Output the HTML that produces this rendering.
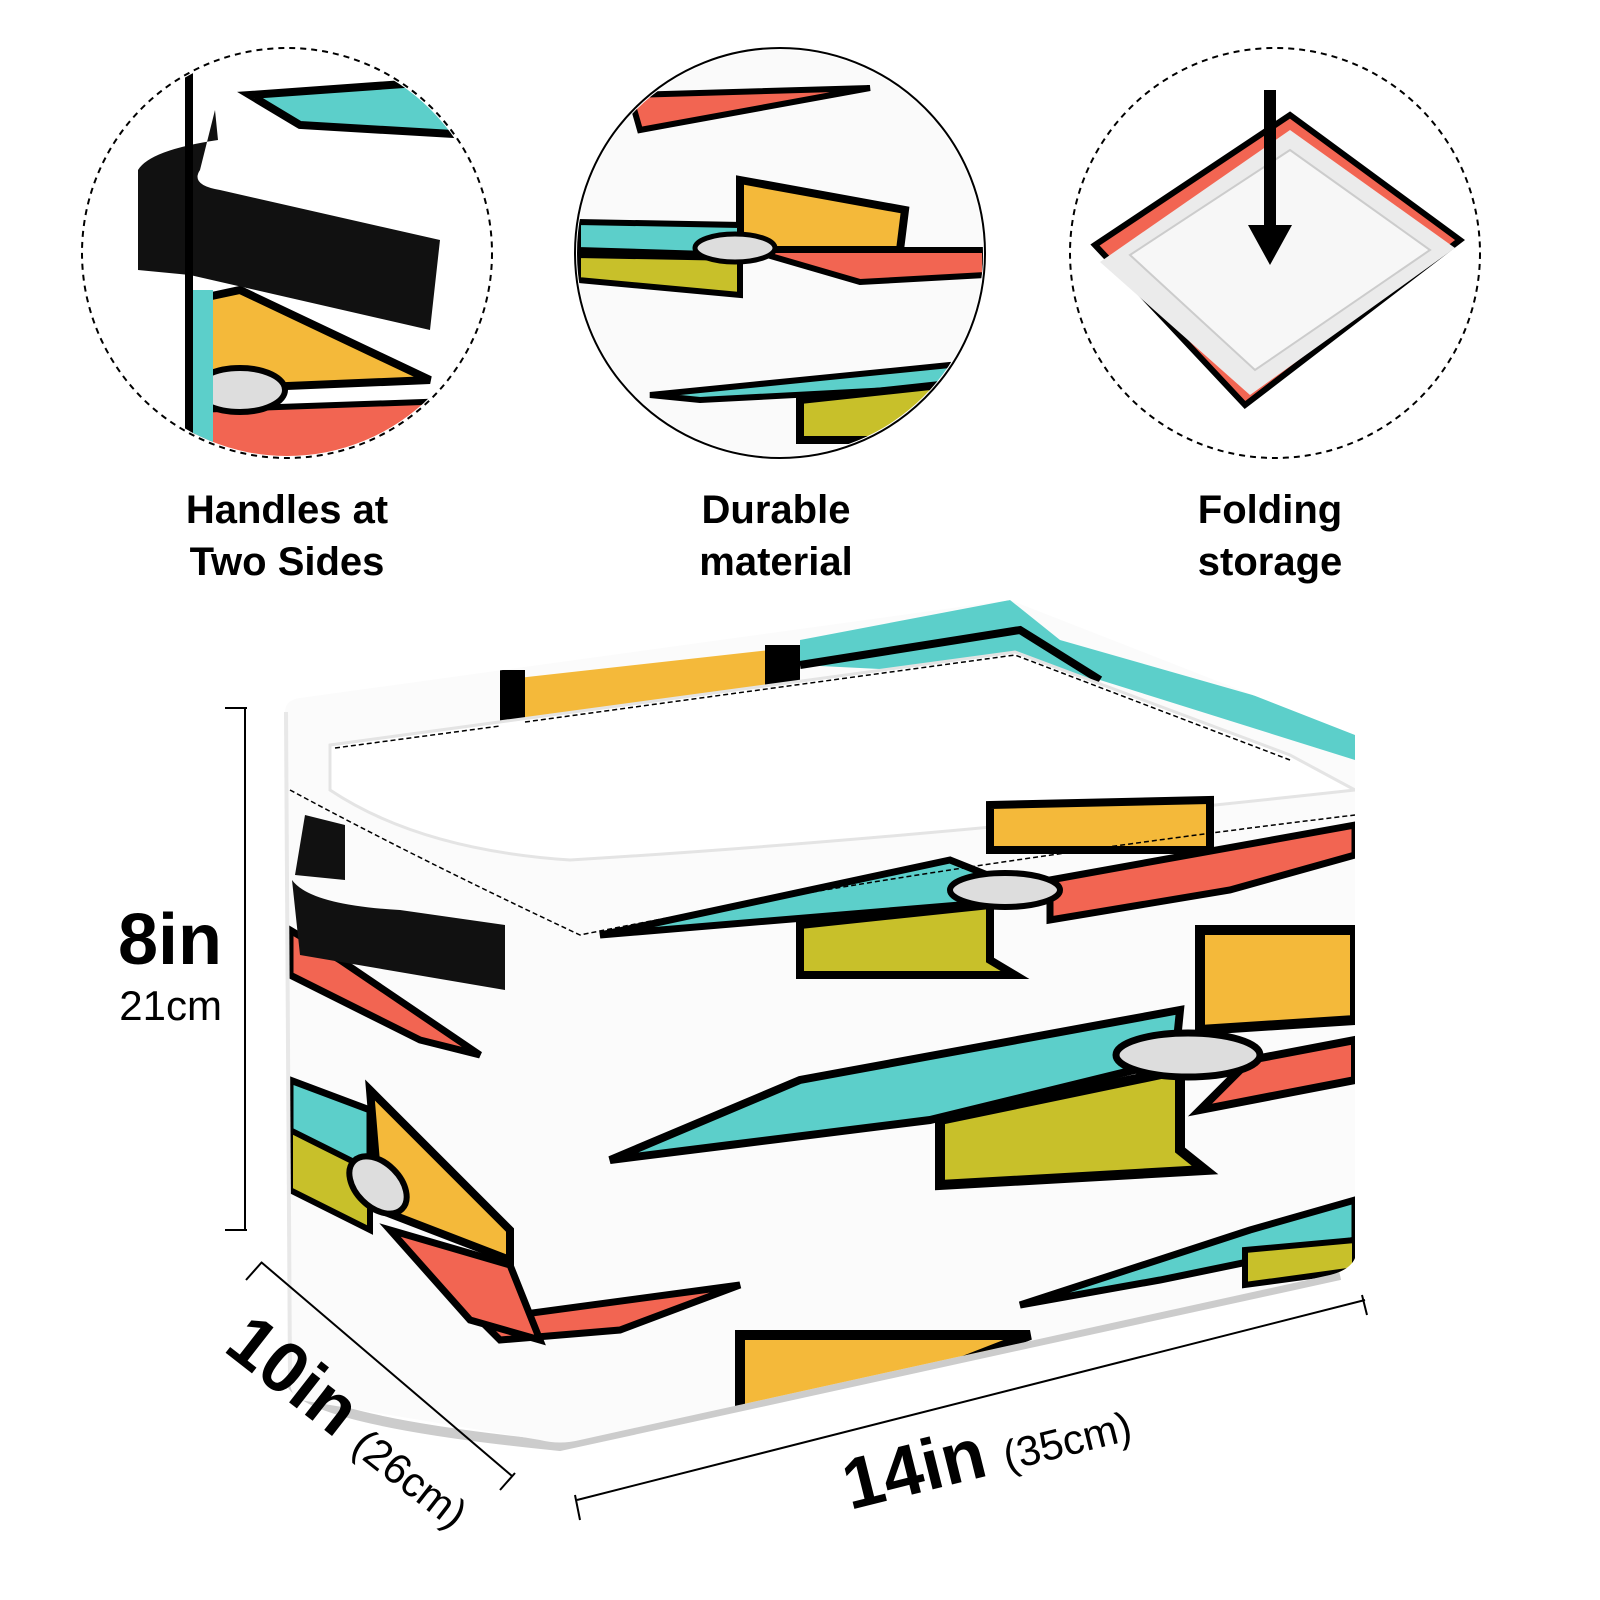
<!DOCTYPE html>
<html><head><style>
html,body{margin:0;padding:0;background:#fff;}
svg{display:block;}
text{font-family:"Liberation Sans",sans-serif;font-weight:bold;fill:#000;}
</style></head><body>
<svg width="1600" height="1600" viewBox="0 0 1600 1600" xmlns="http://www.w3.org/2000/svg">
<defs>
<clipPath id="c1"><circle cx="287" cy="253" r="203"/></clipPath>
<clipPath id="c2"><circle cx="780" cy="253" r="203"/></clipPath>
<clipPath id="c3"><circle cx="1275" cy="253" r="203"/></clipPath>
<clipPath id="body"><path d="M285,712 Q285,700 300,698 L1010,600 L1355,735 L1355,1258 Q1350,1270 1330,1275 L580,1440 Q560,1445 540,1440 L300,1400 Q290,1395 290,1380 Z"/></clipPath>
</defs>

<!-- circle 1: handle -->
<g clip-path="url(#c1)">
<rect x="190" y="40" width="320" height="430" fill="#fff"/>
<polygon points="250,95 460,80 470,135 300,125" fill="#5ccfca" stroke="#000" stroke-width="8"/>
<polygon points="193,300 240,290 430,380 193,390" fill="#f4b93a" stroke="#000" stroke-width="8"/>
<polygon points="193,410 480,400 460,470 193,470" fill="#f26552" stroke="#000" stroke-width="6"/>
<ellipse cx="240" cy="390" rx="45" ry="22" fill="#ddd" stroke="#000" stroke-width="6"/>
<rect x="193" y="290" width="20" height="180" fill="#5ccfca"/>
<path d="M215,110 L218,140 Q150,150 138,170 L138,270 L190,275 L430,330 L440,240 L220,190 Q190,185 200,170 Z" fill="#111"/>
<rect x="185" y="40" width="8" height="430" fill="#000"/>
</g>
<circle cx="287" cy="253" r="205" fill="none" stroke="#000" stroke-width="2" stroke-dasharray="6,5"/>

<!-- circle 2: material -->
<g clip-path="url(#c2)">
<rect x="575" y="45" width="410" height="420" fill="#fafafa"/>
<polygon points="630,95 870,88 640,130" fill="#f26552" stroke="#000" stroke-width="6"/>
<polygon points="740,180 905,210 900,250 740,250" fill="#f4b93a" stroke="#000" stroke-width="8"/>
<polygon points="578,222 740,225 740,255 578,250" fill="#5ccfca" stroke="#000" stroke-width="6"/>
<polygon points="750,250 985,250 985,275 860,282" fill="#f26552" stroke="#000" stroke-width="6"/>
<polygon points="578,255 740,258 740,295 578,280" fill="#c8c02a" stroke="#000" stroke-width="6"/>
<ellipse cx="735" cy="248" rx="40" ry="14" fill="#ddd" stroke="#000" stroke-width="5"/>
<polygon points="650,395 950,365 985,385 700,400" fill="#5ccfca" stroke="#000" stroke-width="6"/>
<polygon points="800,400 940,385 950,440 800,440" fill="#c8c02a" stroke="#000" stroke-width="8"/>
</g>
<circle cx="780" cy="253" r="205" fill="none" stroke="#000" stroke-width="2"/>

<!-- circle 3: folding -->
<g clip-path="url(#c3)">
<polygon points="1095,245 1290,115 1460,240 1245,405" fill="#f26552" stroke="#000" stroke-width="6"/>
<polygon points="1100,262 1290,130 1455,248 1250,395" fill="#ebebeb"/>
<polygon points="1130,255 1290,150 1430,250 1255,370" fill="#f7f7f7" stroke="#ccc" stroke-width="2"/>
<rect x="1264" y="90" width="12" height="160" fill="#000"/>
<polygon points="1248,225 1292,225 1270,265" fill="#000"/>
</g>
<circle cx="1275" cy="253" r="205" fill="none" stroke="#000" stroke-width="2" stroke-dasharray="6,5"/>

<!-- labels -->
<g font-size="40" text-anchor="middle">
<text x="287" y="523">Handles at</text>
<text x="287" y="575">Two Sides</text>
<text x="776" y="523">Durable</text>
<text x="776" y="575">material</text>
<text x="1270" y="523">Folding</text>
<text x="1270" y="575">storage</text>
</g>

<!-- basket -->
<path d="M290,1380 Q300,1420 560,1446 L1340,1275" fill="none" stroke="#ccc" stroke-width="10"/>
<g clip-path="url(#body)">
<rect x="280" y="590" width="1080" height="860" fill="#fbfbfb"/>
<polygon points="500,680 770,650 770,700 520,725" fill="#f4b93a"/>
<rect x="500" y="670" width="25" height="55" fill="#000"/>
<rect x="765" y="645" width="35" height="60" fill="#000"/>
<polygon points="800,640 1010,600 1060,640 1270,700 1355,720 1355,760 1100,680 800,665" fill="#5ccfca"/>
<path d="M800,665 L1020,630 L1100,680" fill="none" stroke="#000" stroke-width="8"/>
<path d="M330,745 L1015,652 L1290,755 L1355,790 Q900,840 570,860 Q420,850 330,790 Z" fill="#ffffff" stroke="#e4e4e4" stroke-width="3"/>
<polygon points="990,805 1210,800 1210,850 990,850" fill="#f4b93a" stroke="#000" stroke-width="8"/>
<polygon points="600,935 950,860 1000,880 960,905" fill="#5ccfca" stroke="#000" stroke-width="7"/>
<polygon points="1050,880 1355,825 1355,855 1230,890 1050,920" fill="#f26552" stroke="#000" stroke-width="7"/>
<polygon points="800,925 990,905 990,960 1015,975 800,975" fill="#c8c02a" stroke="#000" stroke-width="8"/>
<ellipse cx="1005" cy="890" rx="55" ry="17" fill="#ddd" stroke="#000" stroke-width="6"/>
<polygon points="1200,930 1355,930 1355,1020 1200,1030" fill="#f4b93a" stroke="#000" stroke-width="10"/>
<polygon points="610,1160 800,1080 1180,1010 1175,1060 930,1120 730,1145" fill="#5ccfca" stroke="#000" stroke-width="8"/>
<polygon points="1250,1060 1355,1040 1355,1080 1200,1110" fill="#f26552" stroke="#000" stroke-width="8"/>
<polygon points="940,1120 1180,1070 1180,1150 1205,1170 940,1185" fill="#c8c02a" stroke="#000" stroke-width="10"/>
<ellipse cx="1188" cy="1055" rx="72" ry="22" fill="#ddd" stroke="#000" stroke-width="7"/>
<polygon points="1020,1305 1250,1230 1355,1200 1355,1240 1160,1280" fill="#5ccfca" stroke="#000" stroke-width="7"/>
<polygon points="1245,1250 1355,1240 1355,1270 1245,1285" fill="#c8c02a" stroke="#000" stroke-width="6"/>
<polygon points="740,1335 1030,1335 760,1440 740,1440" fill="#f4b93a" stroke="#000" stroke-width="10"/>
<polygon points="480,1320 740,1285 620,1330 500,1340" fill="#f26552" stroke="#000" stroke-width="7"/>
<polygon points="290,930 340,960 480,1055 420,1040 290,975" fill="#f26552" stroke="#000" stroke-width="7"/>
<polygon points="290,1080 370,1110 370,1180 290,1160" fill="#5ccfca" stroke="#000" stroke-width="7"/>
<polygon points="370,1090 510,1230 510,1260 380,1210" fill="#f4b93a" stroke="#000" stroke-width="8"/>
<polygon points="290,1130 370,1170 370,1230 290,1190" fill="#c8c02a" stroke="#000" stroke-width="6"/>
<polygon points="390,1230 510,1265 540,1340 470,1320" fill="#f26552" stroke="#000" stroke-width="7"/>
<ellipse cx="378" cy="1185" rx="22" ry="34" fill="#ddd" stroke="#000" stroke-width="6" transform="rotate(-45 378 1185)"/>
<path d="M335,748 L500,726 M525,722 L1015,655 L1290,760" fill="none" stroke="#000" stroke-width="1.5" stroke-dasharray="5,3"/>
<path d="M290,790 Q420,860 580,935 Q900,870 1355,815" fill="none" stroke="#000" stroke-width="1.5" stroke-dasharray="5,3"/>
<path d="M305,815 L345,825 L345,880 L295,875 Z" fill="#111"/>
<path d="M292,880 Q310,905 400,910 L505,925 L505,990 L300,955 Z" fill="#111"/>
</g>
<path d="M286,712 L290,1380" stroke="#e8e8e8" stroke-width="4"/>

<g stroke="#000" stroke-width="2" fill="none">
<line x1="245" y1="708" x2="245" y2="1230"/>
<line x1="225" y1="708" x2="247" y2="708"/>
<line x1="225" y1="1230" x2="247" y2="1230"/>
<line x1="261" y1="1262" x2="512" y2="1476"/>
<line x1="246" y1="1280" x2="262" y2="1262"/>
<line x1="500" y1="1490" x2="515" y2="1473"/>
<line x1="577" y1="1500" x2="1365" y2="1300"/>
<line x1="575" y1="1495" x2="580" y2="1520"/>
<line x1="1362" y1="1295" x2="1367" y2="1315"/>
</g>
<text x="222" y="964" font-size="72" text-anchor="end">8in</text>
<text x="222" y="1020" font-size="42" text-anchor="end" style="font-weight:normal">21cm</text>
<g transform="translate(222,1350) rotate(38)">
<text x="0" y="0" font-size="72">10in</text>
<text x="162" y="0" font-size="42" style="font-weight:normal">(26cm)</text>
</g>
<g transform="translate(850,1510) rotate(-14)">
<text x="0" y="0" font-size="72">14in</text>
<text x="162" y="0" font-size="42" style="font-weight:normal">(35cm)</text>
</g>
</svg>
</body></html>
